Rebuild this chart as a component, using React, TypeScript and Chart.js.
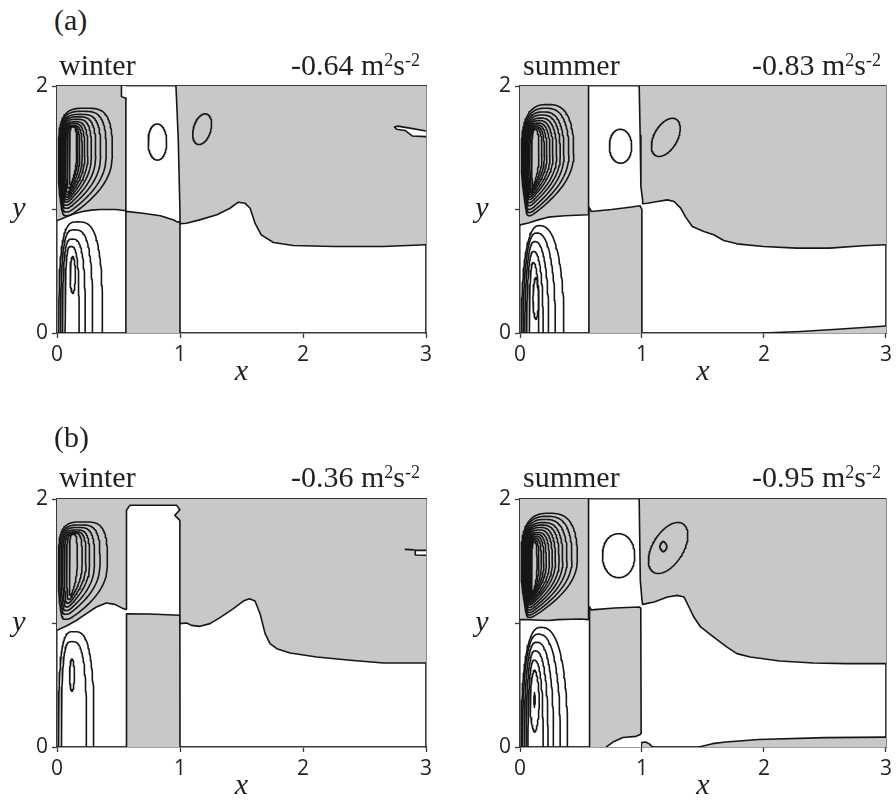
import React, { useEffect, useRef } from "react";
import { Chart, registerables } from "chart.js";

Chart.register(...registerables);

type Pt = [number, number];

const SHADE = "#c7c8ca";
const INK = "#161616";
const FRAME = "#3a3a3a";
const TEXT = "#231f20";
const SERIF = '"Liberation Serif", "Times New Roman", serif';
const SANS = '"Open Sans", "Noto Sans", sans-serif';

// axis tick positions
const xTickValues = [0, 1, 2, 3];
const yTickValues = [0, 1, 2];

// captions
const rowTags = ["(a)", "(b)"];
const seasonNames = ["winter", "summer"];
const cycleValues = ["-0.64", "-0.83", "-0.36", "-0.95"];

// ---------------- (a) winter ----------------
const awShadeUpperLeft: Pt[] = [[0, 0.91], [0.04, 0.925], [0.08, 0.943], [0.14, 0.966], [0.21, 0.984], [0.28, 0.995], [0.35, 1.0], [0.48, 1.0], [0.56, 0.99], [0.56, 1.9]];
const awNotch: Pt[] = [[0.56, 1.9], [0.524, 1.914], [0.524, 2]];
const awShadeColumn: Pt[] = [[0.56, 0], [0.56, 0.985], [0.7, 0.97], [0.84, 0.95], [0.95, 0.915], [0.975, 0.9], [1.0, 0.9], [1.0, 0]];
const awShadeUpperRight: Pt[] = [[0.967, 2], [0.972, 1.89], [0.986, 1.56], [1.0, 0.97], [1.0, 0.884], [1.053, 0.889], [1.16, 0.916], [1.3, 0.957], [1.406, 1.01], [1.474, 1.059], [1.53, 1.05], [1.57, 1.01], [1.61, 0.889], [1.66, 0.795], [1.76, 0.733], [1.92, 0.709], [2.25, 0.7], [2.655, 0.7], [3, 0.714]];
const awSliverTop: Pt[] = [[2.745, 1.668], [2.77, 1.675], [2.88, 1.657], [3, 1.636]];
const awSliverBottom: Pt[] = [[2.745, 1.668], [2.76, 1.65], [2.83, 1.64], [2.89, 1.595], [3, 1.59]];
const awCapLeft = [0.012, 0.018, 0.024, 0.03, 0.037, 0.044, 0.052, 0.06, 0.07, 0.082, 0.1];
const awCapRight = [0.45, 0.4, 0.355, 0.315, 0.28, 0.25, 0.225, 0.205, 0.185, 0.17, 0.16];
const awCapTop = [1.82, 1.795, 1.77, 1.75, 1.73, 1.71, 1.695, 1.68, 1.675, 1.67, 1.67];
const awCapBase = [0.95, 0.98, 1.01, 1.035, 1.06, 1.08, 1.1, 1.12, 1.14, 1.17, 1.2];
const awArchLeft = [0.015, 0.03, 0.045, 0.065];
const awArchRight = [0.37, 0.29, 0.23, 0.18];
const awArchTop = [0.9, 0.835, 0.76, 0.7];
// [cx, cy, semi-axis a, semi-axis b, tilt (deg), roundness]
const awLoops = [
  [0.816, 1.546, 0.075, 0.146, 0, 2.1],
  [1.18, 1.65, 0.128, 0.07, 73, 2],
  [0.128, 0.47, 0.022, 0.15, 0, 1.8],
];

// ---------------- (a) summer ----------------
const asShadeUpperLeft: Pt[] = [[0, 0.875], [0.068, 0.89], [0.149, 0.916], [0.23, 0.938], [0.367, 0.949], [0.557, 0.957], [0.562, 0.96], [0.562, 2]];
const asShadeColumn: Pt[] = [[0.565, 0], [0.565, 1.02], [0.584, 0.984], [0.75, 1.0], [0.9, 1.018], [0.985, 1.03], [0.999, 1.0], [0.999, 0]];
const asShadeUpperRight: Pt[] = [[0.977, 2], [0.985, 1.6], [0.991, 1.186], [1.005, 1.078], [1.005, 1.046], [1.045, 1.051], [1.127, 1.065], [1.208, 1.078], [1.263, 1.065], [1.317, 1.011], [1.358, 0.938], [1.412, 0.863], [1.507, 0.822], [1.588, 0.795], [1.67, 0.749], [1.778, 0.722], [1.996, 0.7], [2.267, 0.687], [2.539, 0.687], [2.81, 0.706], [3, 0.714]];
const asShadeFloor: Pt[] = [[1.99, 0], [2.3, 0.012], [2.6, 0.03], [3, 0.057]];
const asCapLeft = [0.012, 0.018, 0.024, 0.03, 0.037, 0.044, 0.052, 0.06, 0.07, 0.08, 0.095];
const asCapRight = [0.44, 0.4, 0.36, 0.33, 0.3, 0.27, 0.245, 0.22, 0.2, 0.18, 0.155];
const asCapTop = [1.85, 1.82, 1.79, 1.765, 1.74, 1.72, 1.7, 1.685, 1.67, 1.66, 1.65];
const asCapBase = [0.95, 0.975, 1.0, 1.03, 1.055, 1.08, 1.1, 1.12, 1.14, 1.16, 1.18];
const asArchLeft = [0.012, 0.025, 0.04, 0.055, 0.075];
const asArchRight = [0.36, 0.29, 0.235, 0.19, 0.155];
const asArchTop = [0.87, 0.81, 0.74, 0.66, 0.57];
const asLoops = [
  [0.824, 1.512, 0.091, 0.137, 0, 2.1],
  [1.195, 1.584, 0.17, 0.095, 60, 2],
  [0.13, 0.28, 0.024, 0.17, 0, 1.7],
];

// ---------------- (b) winter ----------------
const bwShadeUpper: Pt[] = [[0, 0.941], [0.076, 0.976], [0.157, 1.02], [0.239, 1.075], [0.32, 1.129], [0.4, 1.161], [0.47, 1.15], [0.538, 1.116], [0.56, 1.108], [0.565, 1.11], [0.565, 1.909], [0.592, 1.949], [0.972, 1.949], [0.999, 1.914], [0.958, 1.868], [0.999, 1.828], [0.999, 1.08], [1.0, 0.995], [1.054, 1.0], [1.094, 0.981], [1.162, 0.973], [1.244, 0.995], [1.325, 1.043], [1.434, 1.116], [1.515, 1.177], [1.564, 1.196], [1.61, 1.177], [1.651, 1.075], [1.692, 0.914], [1.732, 0.833], [1.787, 0.793], [1.895, 0.758], [2.112, 0.726], [2.384, 0.699], [2.655, 0.677], [3, 0.677]];
const bwShadeColumn: Pt[] = [[0.565, 0], [0.565, 1.075], [0.75, 1.072], [0.999, 1.062], [1.0, 0]];
const bwSliverTop: Pt[] = [[2.913, 1.586], [3, 1.586]];
const bwSliverBottom: Pt[] = [[2.913, 1.586], [2.913, 1.548], [3, 1.546]];
const bwDash: Pt[] = [[2.832, 1.594], [2.9, 1.59]];
const bwCapLeft = [0.012, 0.022, 0.034, 0.046, 0.06, 0.078, 0.1];
const bwCapRight = [0.41, 0.35, 0.305, 0.265, 0.235, 0.205, 0.165];
const bwCapTop = [1.815, 1.79, 1.77, 1.75, 1.735, 1.725, 1.715];
const bwCapBase = [1.03, 1.07, 1.1, 1.13, 1.16, 1.19, 1.22];
const bwArchLeft = [0.012, 0.035];
const bwArchRight = [0.3, 0.24];
const bwArchTop = [0.93, 0.85];
const bwLoops = [[0.122, 0.58, 0.02, 0.13, 0, 1.8]];

// ---------------- (b) summer ----------------
const bsShadeUpperLeft: Pt[] = [[0, 1.027], [0.06, 1.027], [0.122, 1.024], [0.23, 1.02], [0.31, 1.027], [0.42, 1.03], [0.5, 1.032], [0.557, 1.027], [0.562, 1.03], [0.562, 2]];
const bsShadeColumn: Pt[] = [[0.57, 0], [0.57, 1.129], [0.585, 1.105], [0.61, 1.108], [0.774, 1.121], [0.977, 1.129], [0.99, 1.12], [0.993, 0.11]];
const bsClearFoot: Pt[] = [[0.708, 0], [0.762, 0.04], [0.844, 0.076], [0.952, 0.086], [0.985, 0.1], [0.993, 0.11]];
const bsShadeNub: Pt[] = [[0.993, 0], [0.995, 0.035], [1.03, 0.04], [1.06, 0.025], [1.085, 0]];
const bsShadeUpperRight: Pt[] = [[0.977, 2], [0.986, 1.344], [1.0, 1.183], [1.005, 1.15], [1.1, 1.169], [1.208, 1.21], [1.29, 1.223], [1.344, 1.21], [1.385, 1.129], [1.425, 1.048], [1.48, 0.968], [1.588, 0.887], [1.697, 0.806], [1.778, 0.753], [1.887, 0.726], [2.13, 0.694], [2.403, 0.677], [2.674, 0.672], [3, 0.672]];
const bsShadeFloor: Pt[] = [[1.468, 0], [1.577, 0.027], [1.686, 0.04], [1.957, 0.06], [2.5, 0.076], [3, 0.08]];
const bsCapLeft = [0.01, 0.016, 0.022, 0.028, 0.034, 0.04, 0.047, 0.054, 0.061, 0.068, 0.076, 0.085, 0.095];
const bsCapRight = [0.47, 0.425, 0.385, 0.35, 0.32, 0.29, 0.265, 0.24, 0.215, 0.195, 0.175, 0.155, 0.14];
const bsCapTop = [1.885, 1.86, 1.835, 1.81, 1.79, 1.77, 1.75, 1.73, 1.715, 1.7, 1.685, 1.67, 1.655];
const bsCapBase = [1.045, 1.065, 1.085, 1.105, 1.125, 1.145, 1.16, 1.175, 1.19, 1.2, 1.21, 1.22, 1.23];
const bsArchLeft = [0.01, 0.02, 0.035, 0.05, 0.065];
const bsArchRight = [0.39, 0.33, 0.275, 0.23, 0.19];
const bsArchTop = [0.965, 0.91, 0.845, 0.775, 0.7];
const bsLoops = [
  [0.808, 1.543, 0.132, 0.177, 0, 2.1],
  [1.214, 1.605, 0.23, 0.125, 58, 2],
  [1.175, 1.616, 0.03, 0.042, 0, 1.4],
  [0.12, 0.37, 0.038, 0.25, 0, 1.7],
  [0.119, 0.38, 0.005, 0.06, 0, 2],
];

interface PanelData {
  shadeAbove: Pt[][];
  shadeBelow: Pt[][];
  clearAbove: Pt[][];
  clearBelow: Pt[][];
  clearBands: Pt[][][];
  strokes: Pt[][];
  capLeft: number[];
  capRight: number[];
  capTop: number[];
  capBase: number[];
  archLeft: number[];
  archRight: number[];
  archTop: number[];
  loops: number[][];
  capSquareness: number;
  archSquareness: number;
}

const panelA_winter: PanelData = {
  shadeAbove: [awShadeUpperLeft, awShadeUpperRight],
  shadeBelow: [awShadeColumn],
  clearAbove: [awNotch],
  clearBelow: [],
  clearBands: [[awSliverTop, awSliverBottom]],
  strokes: [],
  capLeft: awCapLeft, capRight: awCapRight, capTop: awCapTop, capBase: awCapBase,
  archLeft: awArchLeft, archRight: awArchRight, archTop: awArchTop,
  loops: awLoops,
  capSquareness: 3.4,
  archSquareness: 3.2,
};
const panelA_summer: PanelData = {
  shadeAbove: [asShadeUpperLeft, asShadeUpperRight],
  shadeBelow: [asShadeColumn, asShadeFloor],
  clearAbove: [],
  clearBelow: [],
  clearBands: [],
  strokes: [],
  capLeft: asCapLeft, capRight: asCapRight, capTop: asCapTop, capBase: asCapBase,
  archLeft: asArchLeft, archRight: asArchRight, archTop: asArchTop,
  loops: asLoops,
  capSquareness: 2.7,
  archSquareness: 2.4,
};
const panelB_winter: PanelData = {
  shadeAbove: [bwShadeUpper],
  shadeBelow: [bwShadeColumn],
  clearAbove: [],
  clearBelow: [],
  clearBands: [[bwSliverTop, bwSliverBottom]],
  strokes: [bwDash],
  capLeft: bwCapLeft, capRight: bwCapRight, capTop: bwCapTop, capBase: bwCapBase,
  archLeft: bwArchLeft, archRight: bwArchRight, archTop: bwArchTop,
  loops: bwLoops,
  capSquareness: 3.6,
  archSquareness: 3.2,
};
const panelB_summer: PanelData = {
  shadeAbove: [bsShadeUpperLeft, bsShadeUpperRight],
  shadeBelow: [bsShadeColumn, bsShadeNub, bsShadeFloor],
  clearAbove: [],
  clearBelow: [bsClearFoot],
  clearBands: [],
  strokes: [],
  capLeft: bsCapLeft, capRight: bsCapRight, capTop: bsCapTop, capBase: bsCapBase,
  archLeft: bsArchLeft, archRight: bsArchRight, archTop: bsArchTop,
  loops: bsLoops,
  capSquareness: 2.8,
  archSquareness: 2.5,
};

// ---- contour outlines traced from their extents ----
const STEPS = 120;
const spow = (v: number, e: number) => Math.sign(v) * Math.pow(Math.abs(v), e);

// closed cell against the western wall: flat top, lower flank pulled towards the wall
function capRing(xl: number, xr: number, yb: number, yt: number, n: number): Pt[] {
  const cy = yb + 0.55 * (yt - yb);
  const cx = (xl + xr) / 2;
  const h = (xr - xl) / 2;
  const pts: Pt[] = [];
  for (let i = 0; i <= STEPS; i++) {
    const t = (i / STEPS) * Math.PI * 2;
    const u = spow(Math.cos(t), 2 / n);
    const v = spow(Math.sin(t), 2 / n);
    let x = cx + u * h;
    let y: number;
    if (v >= 0) y = cy + v * (yt - cy);
    else {
      y = cy + v * (cy - yb);
      x = xl + (x - xl) * (1 - 0.7 * v * v);
    }
    pts.push([x, y]);
  }
  return pts;
}

// contour that leaves and re-enters the southern boundary
function archRing(xl: number, xr: number, yt: number, n: number): Pt[] {
  const cx = xl + 0.42 * (xr - xl);
  const half = STEPS / 2;
  const pts: Pt[] = [];
  for (let i = 0; i <= half; i++) {
    const t = (i / half) * Math.PI;
    const u = spow(Math.cos(t), 2 / n);
    const v = Math.pow(Math.abs(Math.sin(t)), 2 / n);
    const x = u >= 0 ? cx + u * (xr - cx) : cx + u * (cx - xl);
    pts.push([x, v * yt]);
  }
  return pts;
}

// free-standing closed contour (tilted super-ellipse)
function loopRing(cx: number, cy: number, a: number, b: number, deg: number, n: number): Pt[] {
  const r = (deg * Math.PI) / 180;
  const pts: Pt[] = [];
  for (let i = 0; i <= STEPS; i++) {
    const t = (i / STEPS) * Math.PI * 2;
    const px = a * spow(Math.cos(t), 2 / n);
    const py = b * spow(Math.sin(t), 2 / n);
    pts.push([cx + px * Math.cos(r) - py * Math.sin(r), cy + px * Math.sin(r) + py * Math.cos(r)]);
  }
  return pts;
}

function line(pts: Pt[], extra: any) {
  return {
    data: pts.map(([x, y]) => ({ x, y })),
    borderColor: INK,
    borderWidth: 1.6,
    pointRadius: 0,
    tension: 0,
    xAxisID: "x",
    yAxisID: "y",
    fill: false,
    ...extra,
  };
}

function buildDatasets(p: PanelData) {
  const ds: any[] = [];
  p.shadeAbove.forEach((pts) => ds.push(line(pts, { fill: "end", backgroundColor: SHADE, order: 30 })));
  p.shadeBelow.forEach((pts) => ds.push(line(pts, { fill: "start", backgroundColor: SHADE, order: 30 })));
  p.clearAbove.forEach((pts) => ds.push(line(pts, { fill: "end", backgroundColor: "#ffffff", order: 20 })));
  p.clearBelow.forEach((pts) => ds.push(line(pts, { fill: "start", backgroundColor: "#ffffff", order: 20 })));
  p.clearBands.forEach(([top, bottom]) => {
    ds.push(line(top, { order: 20 }));
    ds.push(line(bottom, { fill: "-1", backgroundColor: "#ffffff", order: 20 }));
  });
  p.strokes.forEach((pts) => ds.push(line(pts, { order: 10 })));
  p.capLeft.forEach((xl, i) =>
    ds.push(line(capRing(xl, p.capRight[i], p.capBase[i], p.capTop[i], p.capSquareness), { order: 10 }))
  );
  p.archLeft.forEach((xl, i) =>
    ds.push(line(archRing(xl, p.archRight[i], p.archTop[i], p.archSquareness), { order: 10 }))
  );
  p.loops.forEach((l) => ds.push(line(loopRing(l[0], l[1], l[2], l[3], l[4], l[5]), { order: 10 })));
  return ds;
}

function Panel({ data, left, top, width, height, plotLeft, padRight }: any) {
  const ref = useRef<HTMLCanvasElement>(null);
  useEffect(() => {
    const axisGrid = { drawOnChartArea: false, drawTicks: true, tickLength: 5, tickColor: FRAME, tickWidth: 1.3 };
    const axisBorder = { display: true, color: FRAME, width: 1.6 };
    const chart = new Chart(ref.current as HTMLCanvasElement, {
      type: "line",
      data: { datasets: buildDatasets(data) },
      options: {
        animation: false,
        responsive: false,
        events: [],
        layout: { padding: { top: 46, right: padRight, left: 0, bottom: 0 } },
        plugins: { legend: { display: false }, tooltip: { enabled: false } },
        elements: { point: { radius: 0 }, line: { borderJoinStyle: "round", borderCapStyle: "round" } },
        scales: {
          x: {
            type: "linear",
            position: "bottom",
            min: 0,
            max: 3,
            afterBuildTicks: (s: any) => { s.ticks = xTickValues.map((value) => ({ value })); },
            afterFit: (s: any) => { s.height = 62; },
            ticks: { autoSkip: false, maxRotation: 0, padding: 4, color: TEXT, font: { family: SANS, size: 21 } },
            grid: axisGrid,
            border: axisBorder,
            title: {
              display: true,
              text: "x",
              color: TEXT,
              font: { family: SERIF, size: 30, style: "italic" },
              padding: { top: 0, bottom: 5 },
            },
          },
          y: {
            type: "linear",
            position: "left",
            min: 0,
            max: 2,
            afterBuildTicks: (s: any) => { s.ticks = yTickValues.map((value) => ({ value })); },
            afterFit: (s: any) => { s.width = plotLeft; },
            ticks: {
              autoSkip: false,
              padding: 4,
              color: TEXT,
              callback: (v: any) => (v === 1 ? "y   " : String(v)),
              font: (ctx: any) =>
                ctx.tick && ctx.tick.value === 1
                  ? { family: SERIF, size: 30, style: "italic" }
                  : { family: SANS, size: 21 },
            },
            grid: axisGrid,
            border: axisBorder,
          },
          x2: {
            type: "linear",
            position: "top",
            min: 0,
            max: 3,
            afterFit: (s: any) => { s.height = 0; },
            ticks: { display: false },
            grid: { drawOnChartArea: false, drawTicks: false },
            border: axisBorder,
          },
          y2: {
            type: "linear",
            position: "right",
            min: 0,
            max: 2,
            afterFit: (s: any) => { s.width = 0; },
            ticks: { display: false },
            grid: { drawOnChartArea: false, drawTicks: false },
            border: axisBorder,
          },
        },
      } as any,
    });
    return () => chart.destroy();
  }, []);
  return (
    <canvas
      ref={ref}
      width={width}
      height={height}
      style={{ position: "absolute", left, top, width, height }}
    />
  );
}

const captionStyle: React.CSSProperties = {
  position: "absolute",
  fontFamily: SERIF,
  fontSize: 30,
  lineHeight: "30px",
  color: TEXT,
  whiteSpace: "nowrap",
};

function Sup({ children }: any) {
  return <span style={{ fontSize: 18, position: "relative", top: -9 }}>{children}</span>;
}

function Value({ text, right, top }: any) {
  return (
    <div style={{ ...captionStyle, right, top }}>
      {text} m<Sup>2</Sup>s<Sup>-2</Sup>
    </div>
  );
}

export default function App() {
  return (
    <div style={{ position: "absolute", left: 0, top: 0, width: 896, height: 800, overflow: "hidden", background: "#fff" }}>
      <Panel data={panelA_winter} left={0} top={40} width={440} height={355} plotLeft={57} padRight={14} />
      <Panel data={panelA_summer} left={462} top={40} width={434} height={355} plotLeft={58} padRight={8} />
      <Panel data={panelB_winter} left={0} top={453} width={440} height={356} plotLeft={57} padRight={14} />
      <Panel data={panelB_summer} left={462} top={453} width={434} height={356} plotLeft={58} padRight={8} />

      <div style={{ ...captionStyle, left: 54, top: 5 }}>{rowTags[0]}</div>
      <div style={{ ...captionStyle, left: 59, top: 50 }}>{seasonNames[0]}</div>
      <Value text={cycleValues[0]} right={476} top={50} />
      <div style={{ ...captionStyle, left: 523, top: 50 }}>{seasonNames[1]}</div>
      <Value text={cycleValues[1]} right={15} top={50} />

      <div style={{ ...captionStyle, left: 54, top: 422 }}>{rowTags[1]}</div>
      <div style={{ ...captionStyle, left: 59, top: 462 }}>{seasonNames[0]}</div>
      <Value text={cycleValues[2]} right={476} top={462} />
      <div style={{ ...captionStyle, left: 523, top: 462 }}>{seasonNames[1]}</div>
      <Value text={cycleValues[3]} right={15} top={462} />
    </div>
  );
}
